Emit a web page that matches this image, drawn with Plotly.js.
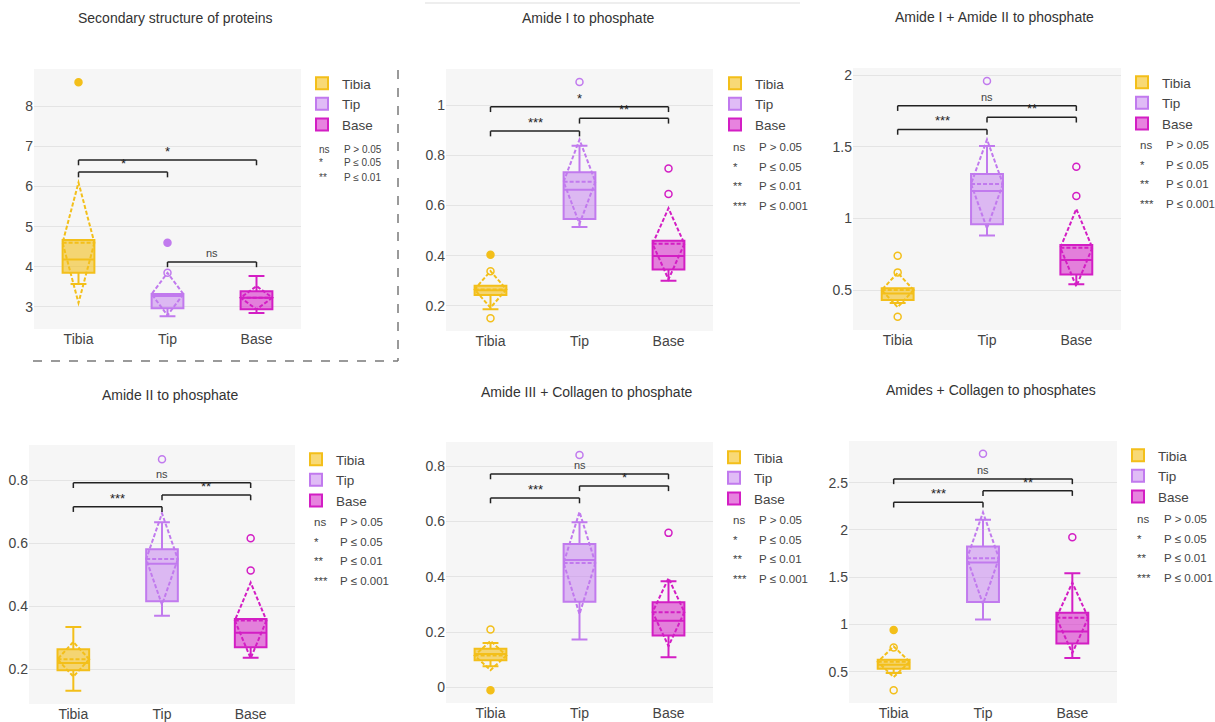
<!DOCTYPE html>
<html>
<head>
<meta charset="utf-8">
<script src="https://cdn.plot.ly/plotly-3.0.1.min.js"></script>
<style>html,body{margin:0;padding:0;background:#fff;}#chart{width:1215px;height:722px;}</style>
</head>
<body>
<div id="chart"></div>
<script>
// ---------------- DATA ----------------
const categories = ['Tibia', 'Tip', 'Base'];
const panelTitles = [
  'Secondary structure of proteins',
  'Amide I to phosphate',
  'Amide I + Amide II to phosphate',
  'Amide II to phosphate',
  'Amide III + Collagen to phosphate',
  'Amides + Collagen to phosphates'
];
// per panel: [Tibia, Tip, Base]
const q1 = [
  [3.85, 2.97, 2.94],
  [0.243, 0.546, 0.345],
  [0.43, 0.958, 0.609],
  [0.197, 0.416, 0.27],
  [0.098, 0.31, 0.187],
  [0.532, 1.236, 0.799]
];
const median = [
  [4.18, 3.27, 3.23],
  [0.262, 0.663, 0.398],
  [0.475, 1.19, 0.709],
  [0.22, 0.535, 0.316],
  [0.12, 0.461, 0.241],
  [0.574, 1.655, 0.926]
];
const q3 = [
  [4.67, 3.32, 3.39],
  [0.28, 0.733, 0.459],
  [0.513, 1.309, 0.814],
  [0.264, 0.581, 0.36],
  [0.139, 0.519, 0.308],
  [0.627, 1.824, 1.123]
];
const lowerFence = [
  [3.57, 2.77, 2.85],
  [0.186, 0.514, 0.30],
  [0.41, 0.88, 0.54],
  [0.132, 0.37, 0.237],
  [0.076, 0.173, 0.109],
  [0.486, 1.053, 0.644]
];
const upperFence = [
  [4.67, 3.32, 3.77],
  [0.28, 0.839, 0.459],
  [0.513, 1.505, 0.814],
  [0.334, 0.667, 0.36],
  [0.16, 0.597, 0.384],
  [0.627, 2.106, 1.542]
];
const meanVal = [
  [4.6, 3.32, 3.23],
  [0.265, 0.695, 0.447],
  [0.50, 1.24, 0.795],
  [0.232, 0.55, 0.355],
  [0.115, 0.45, 0.272],
  [0.605, 1.70, 1.07]
];
const sdVal = [
  [1.5, 0.53, 0.29],
  [0.073, 0.168, 0.142],
  [0.12, 0.31, 0.27],
  [0.055, 0.145, 0.12],
  [0.053, 0.185, 0.123],
  [0.162, 0.485, 0.372]
];
// outlier points
const outPanel  = [0, 0, 0,   1, 1, 1, 1, 1, 1,   2, 2, 2, 2, 2, 2,   3, 3, 3,   4, 4, 4, 4,   5, 5, 5, 5, 5];
const outGroup  = [0, 1, 1,   0, 0, 0, 1, 2, 2,   0, 0, 0, 1, 2, 2,   1, 2, 2,   0, 0, 1, 2,   0, 0, 0, 1, 2];
const outValue  = [8.6, 3.85, 4.6,   0.403, 0.338, 0.15, 1.093, 0.748, 0.646,
                   0.739, 0.623, 0.313, 1.958, 1.36, 1.156,   0.867, 0.616, 0.514,
                   0.209, -0.011, 0.841, 0.559,   0.94, 0.757, 0.303, 2.806, 1.923];
const outFilled = [1, 0, 1,   1, 0, 0, 0, 0, 0,   0, 0, 0, 0, 0, 0,   0, 0, 0,
                   0, 1, 0, 0,   1, 0, 0, 0, 0];
// significance brackets
const brPanel = [0, 0, 0,   1, 1, 1,   2, 2, 2,   3, 3, 3,   4, 4, 4,   5, 5, 5];
const brFrom  = [0, 0, 1,   0, 0, 1,   0, 0, 1,   0, 0, 1,   0, 0, 1,   0, 0, 1];
const brTo    = [1, 2, 2,   1, 2, 2,   1, 2, 2,   1, 2, 2,   1, 2, 2,   1, 2, 2];
const brY     = [6.36, 6.66, 4.12,   0.897, 0.994, 0.948,   1.62, 1.786, 1.705,
                 0.716, 0.792, 0.753,   0.685, 0.772, 0.729,   2.292, 2.539, 2.415];
const brLabel = ['*', '*', 'ns',   '***', '*', '**',   '***', 'ns', '**',
                 '***', 'ns', '**',   '***', 'ns', '*',   '***', 'ns', '**'];
// significance key
const keySymbols = ['ns', '*', '**', '***'];
const keyTexts = ['P > 0.05', 'P \u2264 0.05', 'P \u2264 0.01', 'P \u2264 0.001'];
const keyRows = [3, 4, 4, 4, 4, 4];
// axes
const yRanges = [[2.45, 8.93], [0.099, 1.145], [0.221, 2.049], [0.09, 0.912], [-0.057, 0.888], [0.169, 2.94]];
const yDticks = [1, 0.2, 0.5, 0.2, 0.2, 0.5];

// ---------------- STYLE / LAYOUT ----------------
const W = 1215, H = 722;
const PX = v => v / W;
const PY = v => 1 - v / H;
const lineColors = ['#F3BF1A', '#C17AEE', '#D31EC4'];
const fillColors = ['rgba(243,191,26,0.6)', 'rgba(193,122,238,0.5)', 'rgba(211,30,196,0.55)'];
// plot area pixel boxes [left, right, top, bottom]
const areas = [
  [34, 301, 69, 329], [446, 713, 69, 331], [853, 1121, 68, 330],
  [29, 295, 445, 704], [446, 713, 442, 703], [849, 1117, 441, 703]
];
const titlePos = [[175, 18], [588, 18], [994, 17], [170, 395], [587, 392], [991, 390]];
const legendPos = [[302, 68], [715, 68], [1122, 67], [296, 444], [714, 442], [1118, 440]];
const keyPos = [ // [symbol x, text x, first y, step, font]
  [317, 342, 149, 14, 10], [731, 757, 147, 19.7, 11.5], [1138, 1164, 145, 19.7, 11.5],
  [312, 338, 522, 19.7, 11.5], [731, 757, 520, 19.7, 11.5], [1135, 1162, 519, 19.7, 11.5]
];
const FONT = 'Arial, "Liberation Sans", sans-serif';

const traces = [];
const layout = {
  width: W, height: H,
  margin: {l: 0, r: 0, t: 0, b: 0},
  paper_bgcolor: '#ffffff',
  plot_bgcolor: '#f6f6f6',
  font: {family: FONT, color: '#444', size: 14},
  boxgap: 0.49,
  boxmode: 'overlay',
  showlegend: true,
  shapes: [],
  annotations: []
};

for (let p = 0; p < 6; p++) {
  const sfx = p === 0 ? '' : String(p + 1);
  const xa = 'x' + sfx, ya = 'y' + sfx;
  const legId = 'legend' + sfx;
  const a = areas[p];
  layout['xaxis' + sfx] = {
    domain: [PX(a[0]), PX(a[1])], anchor: ya, type: 'category',
    categoryorder: 'array', categoryarray: categories, range: [-0.5, 2.5],
    showgrid: false, zeroline: false, showline: false, ticks: '',
    tickfont: {size: 14, color: '#444', family: FONT}, fixedrange: true
  };
  layout['yaxis' + sfx] = {
    domain: [PY(a[3]), PY(a[2])], anchor: xa, range: yRanges[p],
    dtick: yDticks[p], tick0: 0, showgrid: true, gridcolor: '#e4e4e4', gridwidth: 1,
    zeroline: false, showline: false, ticks: '',
    tickfont: {size: 14, color: '#444', family: FONT}, fixedrange: true
  };
  layout[legId] = {
    x: PX(legendPos[p][0]), y: PY(legendPos[p][1]), xanchor: 'left', yanchor: 'top',
    font: {size: 13.5, color: '#444', family: FONT}, bgcolor: 'rgba(0,0,0,0)',
    borderwidth: 0, tracegroupgap: 0, itemclick: false
  };
  for (let g = 0; g < 3; g++) {
    traces.push({
      type: 'box', name: categories[g], x: [categories[g]],
      q1: [q1[p][g]], median: [median[p][g]], q3: [q3[p][g]],
      lowerfence: [lowerFence[p][g]], upperfence: [upperFence[p][g]],
      mean: [meanVal[p][g]], sd: [sdVal[p][g]],
      boxmean: 'sd', boxpoints: false,
      line: {color: lineColors[g], width: 2}, fillcolor: fillColors[g],
      whiskerwidth: 0.5,
      xaxis: xa, yaxis: ya, legend: legId, showlegend: true, hoverinfo: 'y'
    });
  }
  // outliers
  for (let g = 0; g < 3; g++) {
    for (const filled of [0, 1]) {
      const ys = [];
      for (let i = 0; i < outValue.length; i++) {
        if (outPanel[i] === p && outGroup[i] === g && outFilled[i] === filled) ys.push(outValue[i]);
      }
      if (!ys.length) continue;
      traces.push({
        type: 'scatter', mode: 'markers', x: ys.map(() => categories[g]), y: ys,
        marker: {symbol: filled ? 'circle' : 'circle-open', size: 7,
                 color: lineColors[g], line: {color: lineColors[g], width: 1.5}},
        xaxis: xa, yaxis: ya, showlegend: false, hoverinfo: 'y'
      });
    }
  }
  // title
  layout.annotations.push({
    text: panelTitles[p], xref: 'paper', yref: 'paper',
    x: PX(titlePos[p][0]), y: PY(titlePos[p][1]), xanchor: 'center', yanchor: 'middle',
    showarrow: false, font: {size: 14, color: '#333', family: FONT}
  });
  // significance key
  const k = keyPos[p];
  for (let r = 0; r < keyRows[p]; r++) {
    const yy = PY(k[2] + r * k[3]);
    layout.annotations.push({
      text: keySymbols[r], xref: 'paper', yref: 'paper', x: PX(k[0]), y: yy,
      xanchor: 'left', yanchor: 'middle', showarrow: false,
      font: {size: k[4], color: '#444', family: FONT}
    });
    layout.annotations.push({
      text: keyTexts[r], xref: 'paper', yref: 'paper', x: PX(k[1]), y: yy,
      xanchor: 'left', yanchor: 'middle', showarrow: false,
      font: {size: k[4], color: '#444', family: FONT}
    });
  }
}

// brackets
for (let i = 0; i < brY.length; i++) {
  const p = brPanel[i];
  const sfx = p === 0 ? '' : String(p + 1);
  const xa = 'x' + sfx, ya = 'y' + sfx;
  const span = yRanges[p][1] - yRanges[p][0];
  const leg = span * 0.02;
  const y = brY[i];
  const st = {color: '#222', width: 1.5};
  layout.shapes.push({type: 'line', xref: xa, yref: ya, x0: brFrom[i], x1: brTo[i], y0: y, y1: y, line: st});
  layout.shapes.push({type: 'line', xref: xa, yref: ya, x0: brFrom[i], x1: brFrom[i], y0: y, y1: y - leg, line: st});
  layout.shapes.push({type: 'line', xref: xa, yref: ya, x0: brTo[i], x1: brTo[i], y0: y, y1: y - leg, line: st});
  const isNs = brLabel[i] === 'ns';
  layout.annotations.push({
    text: brLabel[i], xref: xa, yref: ya, x: (brFrom[i] + brTo[i]) / 2, y: y,
    xanchor: 'center', yanchor: 'bottom', showarrow: false, yshift: isNs ? 1 : -1,
    font: {size: isNs ? 11 : 13, color: isNs ? '#444' : '#222', family: FONT}
  });
}

// dashed frame around the first panel
const dashStyle = {color: '#7a7a7a', width: 1.5, dash: 'dash'};
layout.shapes.push({type: 'line', xref: 'paper', yref: 'paper', x0: PX(33), x1: PX(398), y0: PY(361), y1: PY(361), line: dashStyle});
layout.shapes.push({type: 'line', xref: 'paper', yref: 'paper', x0: PX(398), x1: PX(398), y0: PY(70), y1: PY(361), line: dashStyle});
// faint line at top of middle panel
layout.shapes.push({type: 'line', xref: 'paper', yref: 'paper', x0: PX(425), x1: PX(800), y0: PY(3), y1: PY(3), line: {color: '#eeeeee', width: 2}});

Plotly.newPlot('chart', traces, layout, {displayModeBar: false, staticPlot: true});
</script>
</body>
</html>
